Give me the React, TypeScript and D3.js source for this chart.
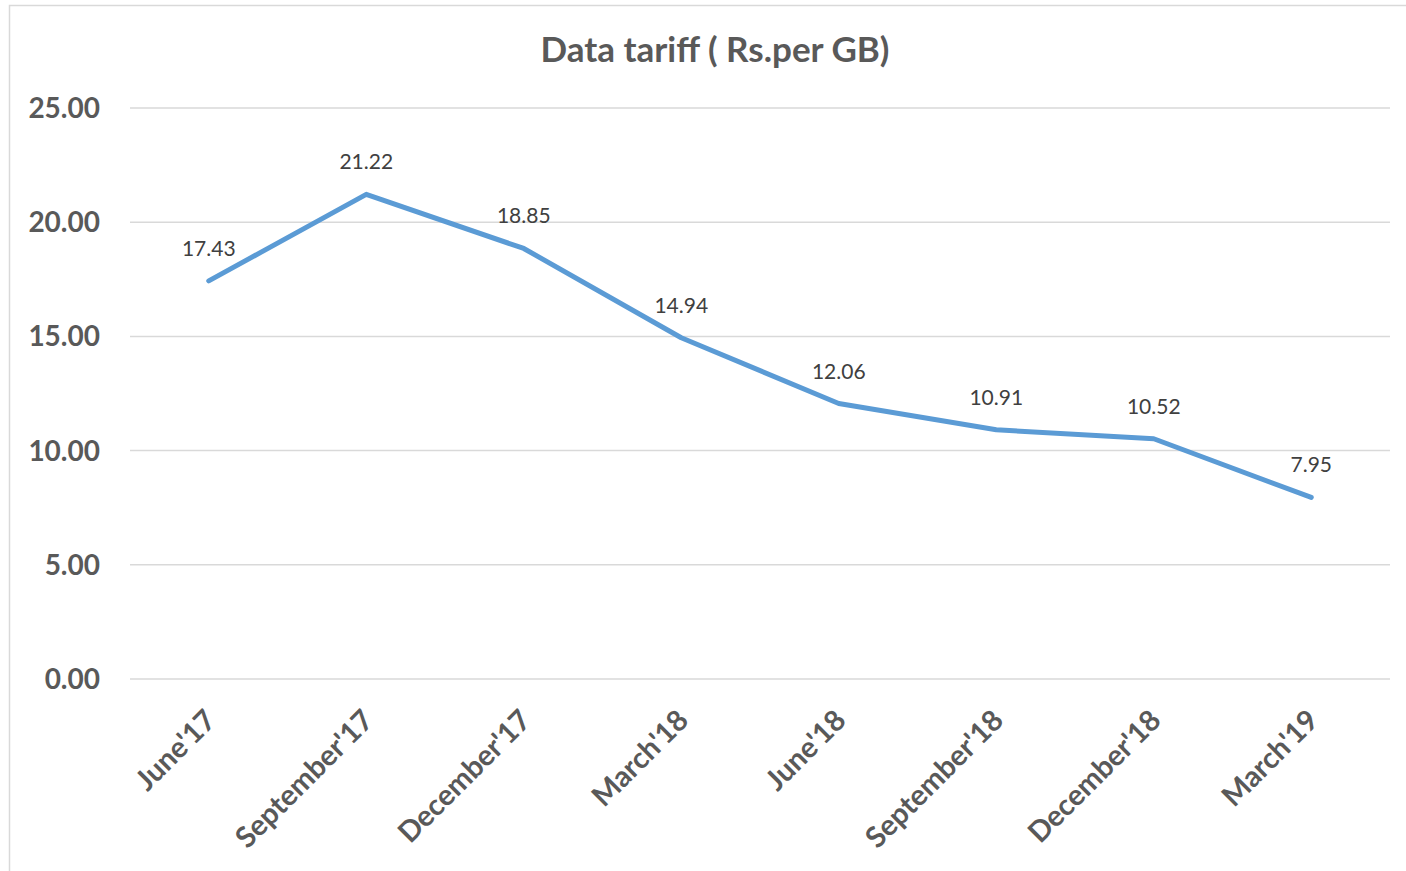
import React from "react";
import * as d3 from "d3";

const categories = ["June'17", "September'17", "December'17", "March'18", "June'18", "September'18", "December'18", "March'19"];
const values = [17.43, 21.22, 18.85, 14.94, 12.06, 10.91, 10.52, 7.95];
const yTicks = [0, 5, 10, 15, 20, 25];
const title = "Data tariff ( Rs.per GB)";

const W = 1406;
const H = 871;
const plot = { left: 130, right: 1390, top: 108, bottom: 679 };
const FONT = "Lato, 'Open Sans', sans-serif";

export default function App() {
  const x = d3.scaleBand<string>().domain(categories).range([plot.left, plot.right]);
  const y = d3.scaleLinear().domain([0, 25]).range([plot.bottom, plot.top]);
  const cx = (c: string) => (x(c) as number) + x.bandwidth() / 2;
  const line = d3
    .line<number>()
    .x((_, i) => cx(categories[i]))
    .y((d) => y(d));

  return (
    <svg width={W} height={H} style={{ position: "absolute", left: 0, top: 0, background: "#fff" }}>
      <rect x={9.5} y={5.5} width={W + 20} height={H + 20} fill="#fff" stroke="#d9d9d9" strokeWidth={1.5} />
      <text x={715} y={62} textAnchor="middle" fontFamily={FONT} fontWeight="bold" fontSize={35} fill="#595959">
        {title}
      </text>
      {yTicks.map((t) => (
        <g key={t}>
          <line x1={plot.left} x2={plot.right} y1={y(t)} y2={y(t)} stroke="#d9d9d9" strokeWidth={1.5} />
          <text x={100} y={y(t)} dy="0.36em" textAnchor="end" fontFamily={FONT} fontWeight="bold" fontSize={28} fill="#595959">
            {t.toFixed(2)}
          </text>
        </g>
      ))}
      {categories.map((c) => (
        <text
          key={c}
          transform={`translate(${cx(c) + 9},${722}) rotate(-45)`}
          textAnchor="end"
          fontFamily={FONT}
          fontWeight="bold"
          fontSize={29}
          fill="#595959"
        >
          {c}
        </text>
      ))}
      <path d={line(values) || ""} fill="none" stroke="#5B9BD5" strokeWidth={5} strokeLinejoin="round" strokeLinecap="round" />
      {values.map((v, i) => (
        <text key={i} x={cx(categories[i])} y={y(v) - 25} textAnchor="middle" fontFamily={FONT} fontSize={21} fill="#404040">
          {v.toFixed(2)}
        </text>
      ))}
    </svg>
  );
}
